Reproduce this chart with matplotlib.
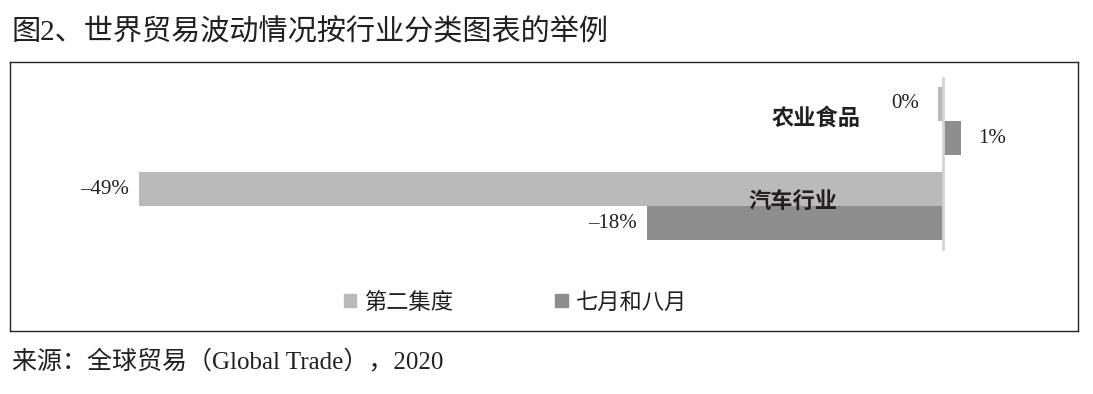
import matplotlib
matplotlib.use('Agg')
import matplotlib.pyplot as plt
from matplotlib.patches import Patch
import numpy as np

# serif for latin / digits, CJK falls back to Noto
plt.rcParams['font.family'] = ['Liberation Serif', 'Noto Sans CJK SC']

categories = ['农业食品', '汽车行业']
series_names = ['第二集度', '七月和八月']
q2_values = [-0.3, -49]        # 第二集度
julaug_values = [1.1, -18]     # 七月和八月

light = '#bababa'
dark = '#8e8e8e'
txt = '#231f20'

W, H = 1093, 394
fig = plt.figure(figsize=(W / 100, H / 100), dpi=100)
# axes == the framed box
ax = fig.add_axes([10 / W, (H - 331) / H, 1068 / W, 269 / H])

ppu = 16.4  # pixels per percent
zero_px = 932.5
ax.set_xlim(-zero_px / ppu, (1068 - zero_px) / ppu)
ax.set_ylim(2.47, -0.694)

y = np.arange(len(categories))
h = 0.4
ax.barh(y - h / 2, q2_values, height=h, color=light, zorder=2)
ax.barh(y + h / 2, julaug_values, height=h, color=dark, zorder=2)
ax.plot([0, 0], [-0.5, 1.5], color='#d4d4d4', lw=2, zorder=3)

# value labels
for vals, off in [(q2_values, -h / 2), (julaug_values, h / 2)]:
    for yi, v in zip(y, vals):
        pad = 18 if abs(v) < 2 else 10
        lab = f'{abs(round(v))}%' if round(v) >= 0 else f'–{abs(round(v))}%'
        ax.annotate(lab, (v, yi + off), xytext=(pad if v > 0 else -pad, 0),
                    textcoords='offset pixels', ha='left' if v > 0 else 'right',
                    va='center', fontsize=15, color=txt)

# category names sit inside the plot, left of the zero line
cat_x = [-5.0, -6.4]
for yi, c, cx in zip(y, categories, cat_x):
    ax.text(cx, yi - 0.03, c, ha='right', va='center', fontsize=16,
            fontweight='bold', color=txt)

ax.set_xticks([])
ax.set_yticks([])
for s in ax.spines.values():
    s.set_color('#222222')
    s.set_linewidth(1)

handles = [Patch(color=light), Patch(color=dark)]
leg = fig.legend(handles, series_names, loc='center left',
                 bbox_to_anchor=(344 / W, 1 - 303 / H), ncol=2, frameon=False,
                 fontsize=16, handlelength=0.55, handleheight=0.55,
                 handletextpad=0.36, columnspacing=4.6, borderpad=0,
                 borderaxespad=0)
for t in leg.get_texts():
    t.set_color(txt)

fig.text(12 / W, 1 - 33 / H, '图2、世界贸易波动情况按行业分类图表的举例',
         fontsize=21, va='center', ha='left', color=txt)
fig.text(12 / W, 1 - 361 / H, '来源：全球贸易（Global Trade），2020',
         fontsize=18, va='center', ha='left', color=txt)

fig.savefig('out.png', dpi=100)
